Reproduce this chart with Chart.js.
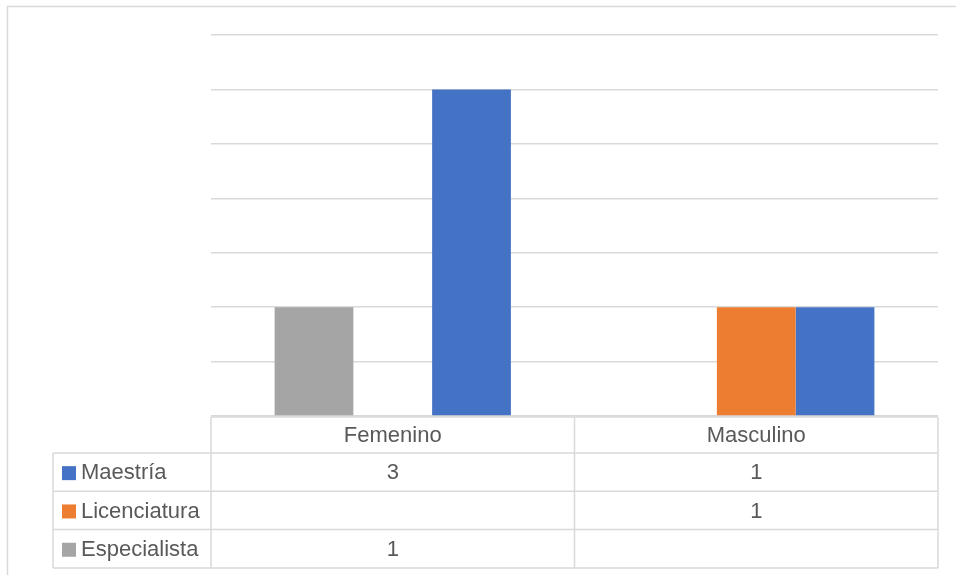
<!DOCTYPE html>
<html>
<head>
<meta charset="utf-8">
<script src="https://cdn.jsdelivr.net/npm/chart.js@4"></script>
<style>
  body { margin: 0; background: #fff; }
  #wrap { width: 956px; height: 575px; position: relative; }
</style>
</head>
<body>
<div id="wrap"><canvas id="myChart" width="956" height="575"></canvas></div>
<script>
const categories = ['Femenino', 'Masculino'];
// bar order left to right inside each group
const seriesNames = ['Especialista', 'Licenciatura', 'Maestría'];
const especialista = [1, null];
const licenciatura = [null, 1];
const maestria = [3, 1];
const seriesColors = ['#a5a5a5', '#ed7d31', '#4472c4'];
// rows of the data table, top to bottom
const tableOrder = [2, 1, 0];

const lineColor = '#d9d9d9';
const textColor = '#595959';
const font = '22px "Liberation Sans", Arial, sans-serif';

const dataTablePlugin = {
  id: 'dataTable',
  afterDraw(chart) {
    const ctx = chart.ctx;
    const area = chart.chartArea;
    const xScale = chart.scales.x;
    const colW = (area.right - area.left) / categories.length;
    const headTop = area.bottom + 1;
    const headH = 36;
    const rowH = 38.3;
    const leftX = 53;
    const rowsTop = headTop + headH;
    const bottom = rowsTop + rowH * tableOrder.length;

    ctx.save();
    ctx.strokeStyle = lineColor;
    ctx.lineWidth = 1.5;

    // outer frame of the chart
    ctx.beginPath();
    ctx.moveTo(7.5, 575);
    ctx.lineTo(7.5, 6.5);
    ctx.lineTo(956, 6.5);
    ctx.stroke();

    ctx.beginPath();
    // header row
    ctx.moveTo(area.left, headTop);
    ctx.lineTo(area.right, headTop);
    for (let i = 0; i <= tableOrder.length; i++) {
      const y = rowsTop + rowH * i;
      ctx.moveTo(leftX, y);
      ctx.lineTo(area.right, y);
    }
    ctx.moveTo(leftX, rowsTop);
    ctx.lineTo(leftX, bottom);
    for (let i = 0; i <= categories.length; i++) {
      const x = area.left + colW * i;
      ctx.moveTo(x, headTop);
      ctx.lineTo(x, bottom);
    }
    ctx.stroke();

    ctx.font = font;
    ctx.fillStyle = textColor;
    ctx.textAlign = 'center';
    ctx.textBaseline = 'middle';
    categories.forEach((c, i) => {
      ctx.fillText(c, xScale.getPixelForValue(i), headTop + headH / 2 + 1);
    });

    tableOrder.forEach((dsIndex, r) => {
      const ds = chart.data.datasets[dsIndex];
      const yMid = rowsTop + rowH * r + rowH / 2 + 1;
      ctx.fillStyle = ds.backgroundColor;
      ctx.fillRect(62, yMid - 7, 14, 14);
      ctx.fillStyle = textColor;
      ctx.textAlign = 'left';
      ctx.fillText(ds.label, 81, yMid);
      ctx.textAlign = 'center';
      ds.data.forEach((v, i) => {
        if (v !== null) ctx.fillText(String(v), xScale.getPixelForValue(i), yMid);
      });
    });
    ctx.restore();
  }
};

const seriesData = [especialista, licenciatura, maestria];

new Chart(document.getElementById('myChart').getContext('2d'), {
  type: 'bar',
  data: {
    labels: categories,
    datasets: seriesNames.map((name, i) => ({
      label: name,
      data: seriesData[i],
      backgroundColor: seriesColors[i],
      categoryPercentage: 0.65,
      barPercentage: 1
    }))
  },
  options: {
    responsive: false,
    animation: false,
    layout: { padding: { left: 211, right: 18, top: 35, bottom: 159 } },
    plugins: {
      legend: { display: false },
      tooltip: { enabled: false }
    },
    scales: {
      x: {
        grid: { display: false, drawTicks: false },
        border: { display: false },
        ticks: { display: false }
      },
      y: {
        min: 0,
        max: 3.5,
        ticks: { display: false, stepSize: 0.5 },
        grid: { color: lineColor, lineWidth: 1.5, drawTicks: false },
        border: { display: false }
      }
    }
  },
  plugins: [dataTablePlugin]
});
</script>
</body>
</html>
